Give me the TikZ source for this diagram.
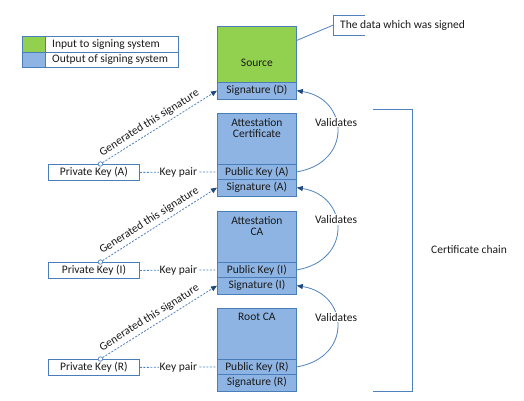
\documentclass[tikz,border=0pt]{standalone}
\usepackage{fontspec}
\setmainfont{Carlito}
\usetikzlibrary{arrows.meta,calc}
\definecolor{grn}{HTML}{92D050}
\definecolor{blu}{HTML}{8EB4E3}
\definecolor{bord}{HTML}{4A7EBB}
\definecolor{lin}{HTML}{4F81BD}
\definecolor{tipc}{HTML}{1F497D}
\definecolor{txt}{HTML}{1A1A1A}
\begin{document}
\begin{tikzpicture}[x=1pt,y=-1pt,
  font=\fontsize{11.5}{11.5}\selectfont, text=txt,
  part/.style={draw=bord, line width=0.8pt, minimum width=79pt, inner sep=0pt, anchor=north west},
  body/.style={part, fill=blu, minimum height=51pt},
  pkey/.style={part, fill=blu, minimum height=15pt},
  sig/.style={part, fill=blu, minimum height=16.5pt},
  prkey/.style={draw=bord, line width=0.8pt, fill=white, minimum width=91pt, minimum height=16pt, inner sep=0pt, anchor=north west},
  dot/.style={circle, draw=lin, fill=white, line width=0.7pt, inner sep=0pt, minimum size=4.5pt},
  plain/.style={draw=lin, line width=0.8pt},
  gen/.style={draw=lin, line width=0.8pt, dash pattern=on 2pt off 1.5pt, -{Triangle[length=6pt,width=5pt,fill=tipc,color=tipc]}},
  kp/.style={draw=lin, line width=0.8pt, dash pattern=on 2pt off 1.5pt},
  val/.style={draw=lin, line width=0.8pt, -{Triangle[length=6pt,width=5pt,fill=tipc,color=tipc]}},
  lbl/.style={fill=white, inner sep=1pt},
  title/.style={anchor=north, align=center, inner sep=0pt},
  legbox/.style={draw=bord, line width=0.8pt, minimum height=15.5pt, inner sep=0pt, anchor=north west},
  legtext/.style={anchor=west, inner sep=0pt}
]
\useasboundingbox (0,0) rectangle (524,400);

% legend
\node[legbox, fill=grn, minimum width=23pt] (sw1) at (22,36) {};
\node[legbox, minimum width=133pt] (lb1) at (45,36) {};
\node[legtext] (lt1) at ([xshift=7pt]lb1.west) {Input to signing system};
\node[legbox, fill=blu, minimum width=23pt] (sw2) at (22,51.5) {};
\node[legbox, minimum width=133pt] (lb2) at (45,51.5) {};
\node[legtext] (lt2) at ([xshift=7pt]lb2.west) {Output of signing system};

% source
\node[part, fill=grn, minimum height=56pt] (src) at (217,26) {};
\node (srcl) at ([yshift=-8pt]src.center) {Source};
\node[sig] (sigD) at (217,82) {Signature (D)};

% callout
\node[anchor=north west, minimum height=20pt, inner xsep=7pt, inner ysep=0pt] (note) at (333,15) {The data which was signed};
\draw[plain] ([xshift=32pt]note.north west) -- (note.north west) -- (note.south west) -- ([xshift=32pt]note.south west);
\draw[plain] ([yshift=14pt]src.east) -- (note.west);

% attestation certificate
\node[body] (bodyA) at (217,113) {};
\node[title] (tA) at ([yshift=-5pt]bodyA.north) {Attestation\\Certificate};
\node[pkey] (pkA) at (217,164) {Public Key (A)};
\node[sig] (sigA) at (217,179) {Signature (A)};

% attestation CA
\node[body] (bodyI) at (217,211) {};
\node[title] (tI) at ([yshift=-5pt]bodyI.north) {Attestation\\CA};
\node[pkey] (pkI) at (217,262) {Public Key (I)};
\node[sig] (sigI) at (217,277) {Signature (I)};

% root CA
\node[body] (bodyR) at (217,308) {};
\node[title] (tR) at ([yshift=-5pt]bodyR.north) {Root CA};
\node[pkey] (pkR) at (217,359) {Public Key (R)};
\node[sig] (sigR) at (217,374) {Signature (R)};

% private keys
\node[prkey] (prA) at (48,164) {Private Key (A)};
\node[prkey] (prI) at (48,262) {Private Key (I)};
\node[prkey] (prR) at (48,359) {Private Key (R)};

% key pair lines
\draw[kp] (prA.east) -- (pkA.west) node[midway, lbl] {Key pair};
\draw[kp] (prI.east) -- (pkI.west) node[midway, lbl] {Key pair};
\draw[kp] (prR.east) -- (pkR.west) node[midway, lbl] {Key pair};

% generated lines
\node[dot] (cA) at ([xshift=6.5pt]prA.north) {};
\node[dot] (cI) at ([xshift=6.5pt]prI.north) {};
\node[dot] (cR) at ([xshift=6.5pt]prR.north) {};
\draw[gen] (cA) -- (sigD.west) node[pos=0.45, sloped, above] {Generated this signature};
\draw[gen] (cI) -- (sigA.west) node[pos=0.45, sloped, above] {Generated this signature};
\draw[gen] (cR) -- (sigI.west) node[pos=0.45, sloped, above] {Generated this signature};

% validates arcs
\draw[val] (pkA.east) .. controls +(56,-9.5) and +(52,8) .. (sigD.east) node[pos=0.58, lbl] {Validates};
\draw[val] (pkI.east) .. controls +(56,-9.5) and +(52,8) .. (sigA.east) node[pos=0.58, lbl] {Validates};
\draw[val] (pkR.east) .. controls +(56,-9.5) and +(52,8) .. (sigI.east) node[pos=0.58, lbl] {Validates};

% certificate chain bracket
\coordinate (bt) at (373,109);
\coordinate (bb) at (373,391);
\draw[plain] (bt) -- ++(39,0) |- (bb);
\node (cc) at (469,250) {Certificate chain};
\end{tikzpicture}
\end{document}
